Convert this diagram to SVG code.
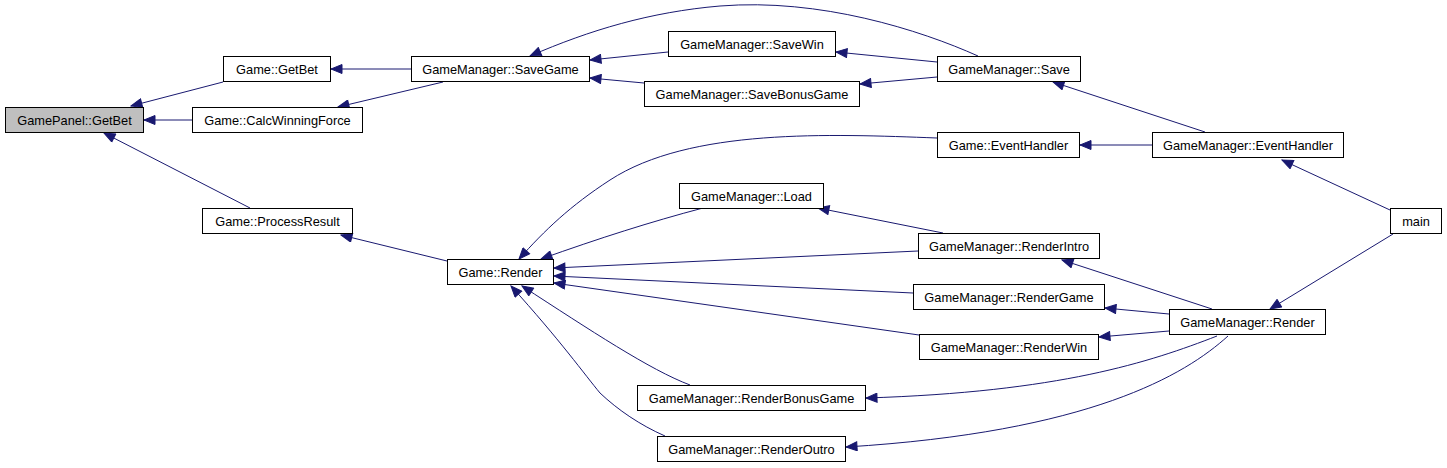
<svg xmlns="http://www.w3.org/2000/svg" width="1447" height="468" viewBox="0 0 1447 468">
<style>
.n rect{fill:#ffffff;stroke:#000000;stroke-width:1}
.n text{font-family:"Liberation Sans",Arial,sans-serif;font-size:12.8px;fill:#000000;text-anchor:middle}
.hl rect{fill:#bfbfbf}
.e path{fill:none;stroke:#191970;stroke-width:1;marker-end:url(#ah)}
</style>
<defs>
<marker id="ah" markerUnits="userSpaceOnUse" markerWidth="13" markerHeight="10" refX="12" refY="5" orient="auto">
<path d="M1,0.5 L12,5 L1,9.5 z" fill="#191970" stroke="#191970" stroke-width="1"/>
</marker>
</defs>
<rect width="1447" height="468" fill="#ffffff"/>
<g class="e" id="connectors">
<path d="M223,82 L131,106"/>
<path d="M192,120 L144,120"/>
<path d="M250,208 L104,133"/>
<path d="M411,69 L331,69"/>
<path d="M443,82 L338,107"/>
<path d="M447,261 L341,235"/>
<path d="M978,56 C920,30 820,-2 720,6 C650,12 590,30 530,56"/>
<path d="M668,52 L590,60"/>
<path d="M644,83 L590,78"/>
<path d="M937,62 L836,52"/>
<path d="M937,77 L860,84"/>
<path d="M1205,132 L1053,82"/>
<path d="M1152,145 L1080,145"/>
<path d="M1390,210 L1282,160"/>
<path d="M1393,234 L1270,309"/>
<path d="M937,138 C830,134 690,128 610,180 C570,206 545,230 519,259"/>
<path d="M703,208 C650,222 600,238 541,259"/>
<path d="M943,233 L818,208"/>
<path d="M918,251 L554,268"/>
<path d="M913,293 L554,276"/>
<path d="M919,335 L554,283"/>
<path d="M690,385 C650,370 590,330 522,286"/>
<path d="M665,436 C640,425 618,410 600,393 C585,375 560,340 511,286"/>
<path d="M1212,309 L1062,260"/>
<path d="M1169,314 L1105,308"/>
<path d="M1169,331 L1099,337"/>
<path d="M1217,336 C1150,362 1060,392 866,398"/>
<path d="M1228,336 C1185,375 1090,432 846,447"/>
</g>
<g class="n hl" id="n_gamepanel_getbet"><rect x="5.5" y="107.5" width="138" height="25"/><text x="74.5" y="124.5">GamePanel::GetBet</text></g>
<g class="n" id="n_game_getbet"><rect x="223.5" y="56.5" width="107" height="25"/><text x="277" y="73.5">Game::GetBet</text></g>
<g class="n" id="n_game_calcwinningforce"><rect x="192.5" y="107.5" width="170" height="25"/><text x="277.5" y="124.5">Game::CalcWinningForce</text></g>
<g class="n" id="n_game_processresult"><rect x="202.5" y="208.5" width="150" height="25"/><text x="277.5" y="225.5">Game::ProcessResult</text></g>
<g class="n" id="n_gm_savegame"><rect x="411.5" y="56.5" width="178" height="25"/><text x="500.5" y="73.5">GameManager::SaveGame</text></g>
<g class="n" id="n_gm_savewin"><rect x="668.5" y="31.5" width="167" height="25"/><text x="752" y="48.5">GameManager::SaveWin</text></g>
<g class="n" id="n_gm_savebonusgame"><rect x="644.5" y="81.5" width="215" height="25"/><text x="752" y="98.5">GameManager::SaveBonusGame</text></g>
<g class="n" id="n_gm_save"><rect x="937.5" y="56.5" width="143" height="25"/><text x="1009" y="73.5">GameManager::Save</text></g>
<g class="n" id="n_game_eventhandler"><rect x="937.5" y="132.5" width="142" height="25"/><text x="1008.5" y="149.5">Game::EventHandler</text></g>
<g class="n" id="n_gm_eventhandler"><rect x="1152.5" y="132.5" width="191" height="25"/><text x="1248" y="149.5">GameManager::EventHandler</text></g>
<g class="n" id="n_game_render"><rect x="447.5" y="259.5" width="106" height="25"/><text x="500.5" y="276.5">Game::Render</text></g>
<g class="n" id="n_gm_load"><rect x="679.5" y="183.5" width="144" height="25"/><text x="751.5" y="200.5">GameManager::Load</text></g>
<g class="n" id="n_gm_renderintro"><rect x="918.5" y="233.5" width="181" height="25"/><text x="1009" y="250.5">GameManager::RenderIntro</text></g>
<g class="n" id="n_gm_rendergame"><rect x="913.5" y="284.5" width="191" height="25"/><text x="1009" y="301.5">GameManager::RenderGame</text></g>
<g class="n" id="n_gm_renderwin"><rect x="919.5" y="334.5" width="179" height="25"/><text x="1009" y="351.5">GameManager::RenderWin</text></g>
<g class="n" id="n_gm_render"><rect x="1169.5" y="309.5" width="156" height="25"/><text x="1247.5" y="326.5">GameManager::Render</text></g>
<g class="n" id="n_main"><rect x="1390.5" y="208.5" width="51" height="25"/><text x="1416" y="225.5">main</text></g>
<g class="n" id="n_gm_renderbonusgame"><rect x="637.5" y="385.5" width="228" height="25"/><text x="751.5" y="402.5">GameManager::RenderBonusGame</text></g>
<g class="n" id="n_gm_renderoutro"><rect x="657.5" y="436.5" width="188" height="25"/><text x="751.5" y="453.5">GameManager::RenderOutro</text></g>
</svg>
